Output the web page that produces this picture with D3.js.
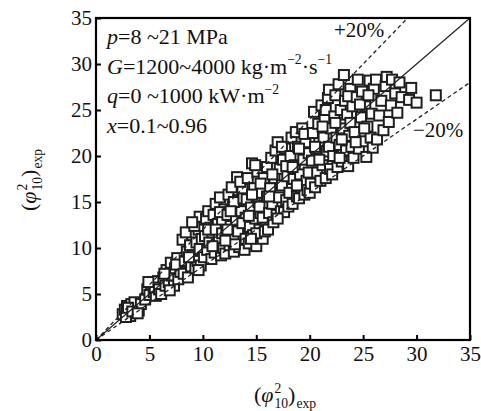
<!DOCTYPE html>
<html>
<head>
<meta charset="utf-8">
<script src="https://cdn.jsdelivr.net/npm/d3@7.9.0/dist/d3.min.js"></script>
<style>
  body { margin: 0; background: #fff; }
  svg { display: block; }
  text { font-family: "Liberation Serif", "Times New Roman", serif; fill: #111; }
</style>
</head>
<body>
<svg id="chart" width="481" height="411"></svg>
<script>
const xTicks = [0, 5, 10, 15, 20, 25, 30, 35];
const yTicks = [0, 5, 10, 15, 20, 25, 30, 35];

const points = [
  [2.5,2.8],[2.7,3.3],[2.9,3.7],[3.1,3.0],[3.3,3.9],[3.5,3.4],[3.2,2.6],[3.8,3.8],[4.0,3.2],[3.6,4.1],
  [2.8,2.5],[4.2,3.9],[3.0,3.5],[3.4,3.1],[3.9,2.9],
  [4.6,4.4],[4.8,5.5],[5.0,4.9],[5.2,6.0],[5.4,5.2],[5.6,4.8],[5.8,6.4],[5.5,5.7],[4.9,6.3],[5.9,5.5],
  [6.1,5.0],[6.3,6.8],[6.5,5.9],[6.6,7.6],[6.8,6.3],[7.0,8.4],[7.1,7.0],[7.3,5.9],[7.4,7.8],[7.6,8.9],
  [7.7,6.6],[7.9,7.4],[6.9,5.4],[7.5,8.2],[6.4,7.2],
  [8.1,10.9],[8.2,7.2],[8.3,8.6],[8.5,9.6],[8.6,6.8],[8.8,10.3],[8.9,8.0],[9.0,11.4],[9.1,9.2],[9.3,7.8],
  [9.4,10.6],[9.5,8.6],[9.6,12.0],[9.7,9.9],[9.8,8.1],[9.9,11.0],[8.4,11.7],[9.2,12.4],[8.7,9.0],[9.6,7.6],
  [9.7,13.4],[9.0,12.8],
  [10.1,9.0],[10.2,11.3],[10.3,13.2],[10.4,9.8],[10.5,14.0],[10.6,10.6],[10.7,12.2],[10.8,8.8],[10.9,11.7],[11.0,13.6],
  [11.1,9.5],[11.2,14.8],[11.3,10.4],[11.4,12.6],[11.5,11.1],[11.6,15.5],[11.7,9.2],[11.8,13.0],[11.9,10.0],[12.0,14.2],
  [10.5,12.0],[11.2,12.0],[11.6,13.9],[10.9,10.2],[11.8,11.6],
  [12.1,9.4],[12.2,11.5],[12.3,13.6],[12.4,15.8],[12.5,10.3],[12.6,12.4],[12.7,16.6],[12.8,14.5],[12.9,9.6],[13.0,11.0],
  [13.1,13.0],[13.2,17.7],[13.3,15.2],[13.4,10.1],[13.5,12.0],[13.6,14.0],[13.7,16.4],[13.8,11.2],[13.9,9.8],[14.0,13.3],
  [12.3,12.0],[12.9,15.0],[13.5,17.2],[13.0,10.4],[13.8,15.4],[12.6,14.0],[13.3,11.8],[14.0,11.0],[12.1,10.8],[13.7,12.7],
  [14.1,15.3],[14.2,17.6],[14.3,10.5],[14.4,12.3],[14.5,14.4],[14.6,19.2],[14.7,11.4],[14.8,16.5],[14.9,13.2],[15.0,10.2],
  [15.1,18.3],[15.2,15.0],[15.3,12.0],[15.4,13.8],[15.5,16.0],[15.6,11.0],[15.7,17.6],[15.8,14.6],[15.9,12.6],[16.0,18.8],
  [14.3,13.5],[14.6,15.8],[15.0,11.6],[15.4,17.0],[15.8,11.8],[14.9,19.0],[15.3,14.5],[14.5,11.0],[16.0,15.6],[15.6,13.3],
  [16.1,12.0],[16.2,13.8],[16.3,16.5],[16.4,19.8],[16.5,14.8],[16.6,12.8],[16.7,17.6],[16.8,20.6],[16.9,13.6],[17.0,21.5],
  [17.1,15.5],[17.2,18.6],[17.3,14.0],[17.4,16.8],[17.5,19.6],[17.6,13.9],[17.7,20.8],[17.8,15.2],[17.9,17.8],[18.0,14.5],
  [16.5,18.0],[17.0,13.2],[17.4,21.0],[16.2,15.6],[17.8,18.9],
  [18.1,16.0],[18.2,20.0],[18.3,22.0],[18.4,14.8],[18.5,17.5],[18.6,19.0],[18.7,22.6],[18.8,15.6],[18.9,21.0],[19.0,15.4],
  [19.1,18.0],[19.2,16.6],[19.3,23.0],[19.4,19.6],[19.5,15.8],[19.6,21.5],[19.7,17.3],[19.8,16.3],[19.9,20.3],[20.0,16.0],
  [18.4,18.8],[19.0,20.8],[19.5,22.4],[18.8,16.8],[19.9,18.2],
  [20.1,17.0],[20.2,19.5],[20.3,22.5],[20.4,24.8],[20.5,16.6],[20.6,20.8],[20.7,18.2],[20.8,23.5],[20.9,21.4],[21.0,17.3],
  [21.1,25.5],[21.2,19.0],[21.3,22.0],[21.4,24.0],[21.5,17.6],[21.6,20.5],[21.7,26.3],[21.8,27.2],[21.9,18.6],[22.0,23.0],
  [20.5,21.0],[21.2,23.2],[21.8,21.0],[20.9,19.6],[21.5,25.0],
  [22.1,18.0],[22.2,20.0],[22.3,24.3],[22.4,26.6],[22.5,22.0],[22.6,18.8],[22.7,27.8],[22.8,21.2],[22.9,25.0],[23.0,19.4],
  [23.1,23.0],[23.2,28.8],[23.3,26.0],[23.4,20.6],[23.5,24.5],[23.6,18.9],[23.7,22.2],[23.8,27.3],[23.9,21.0],[24.0,25.4],
  [22.4,23.6],[23.0,21.8],[23.6,26.5],[22.8,19.8],[23.8,23.6],
  [24.1,19.8],[24.2,22.6],[24.4,26.4],[24.5,28.3],[24.6,20.8],[24.8,24.2],[24.9,27.0],[25.0,21.6],[25.2,25.4],[25.3,19.9],
  [25.4,23.2],[25.6,28.2],[25.7,22.0],[25.8,24.6],[25.9,20.9],[26.0,27.3],[24.3,21.5],[25.1,23.0],[24.7,25.6],[25.5,26.6],
  [26.2,28.3],[26.3,21.8],[26.5,24.4],[26.7,26.0],[26.9,22.8],[27.1,27.6],[27.2,28.6],[27.4,23.7],[27.6,25.5],[27.7,28.3],
  [28.0,26.8],[28.2,24.7],
  [28.4,28.0],[28.6,26.4],[29.3,26.1],[29.5,27.4],[30.0,25.8],[31.8,26.6]
];

// reference lines: y = ratio * x
const guides = [
  { ratio: 1.0, dashed: false },
  { ratio: 1.2, dashed: true },
  { ratio: 0.8, dashed: true }
];

// operating range text, segments: t = text, i = italic, sup = superscript
const conditions = [
  [{ t: 'p', i: true }, { t: '=8 ~21 MPa' }],
  [{ t: 'G', i: true }, { t: '=1200~4000 kg·m' }, { t: '−2', sup: true }, { t: '·s' }, { t: '−1', sup: true }],
  [{ t: 'q', i: true }, { t: '=0 ~1000 kW·m' }, { t: '−2', sup: true }],
  [{ t: 'x', i: true }, { t: '=0.1~0.96' }]
];

const svg = d3.select('#chart');
const x = d3.scaleLinear().domain([0, 35]).range([96, 470]);
const y = d3.scaleLinear().domain([0, 35]).range([340, 18]);

// Draw pieces of text one after another, measuring as we go
function richText(g, segs, size) {
  let cx = 0;
  segs.forEach(s => {
    const fs = s.sup || s.sub ? size * 0.62 : size;
    const t = g.append('text')
      .attr('x', cx)
      .attr('y', s.sup ? -size * 0.42 : s.sub ? size * 0.28 : 0)
      .style('font-size', fs + 'px')
      .style('font-style', s.i ? 'italic' : 'normal')
      .text(s.t);
    if (!s.stack) cx += t.node().getComputedTextLength() + (s.gap || 0);
  });
  return cx;
}

// Points first so the lines stay visible on top
svg.append('g')
  .selectAll('rect')
  .data(points)
  .join('rect')
  .attr('x', d => x(d[0]) - 5)
  .attr('y', d => y(d[1]) - 5)
  .attr('width', 10)
  .attr('height', 10)
  .attr('fill', '#fff')
  .attr('stroke', '#1e1e1e')
  .attr('stroke-width', 2);

guides.forEach(gd => {
  const xEnd = Math.min(35, 35 / gd.ratio);
  svg.append('line')
    .attr('x1', x(0)).attr('y1', y(0))
    .attr('x2', x(xEnd)).attr('y2', y(xEnd * gd.ratio))
    .attr('stroke', '#222')
    .attr('stroke-width', gd.dashed ? 1.3 : 1.2)
    .attr('stroke-dasharray', gd.dashed ? '4,3' : null);
});

// Axes with inward ticks
const xAxis = svg.append('g')
  .attr('transform', 'translate(0,340)')
  .call(d3.axisBottom(x).tickValues(xTicks).tickSizeInner(-5).tickSizeOuter(0).tickPadding(6));
const yAxis = svg.append('g')
  .attr('transform', 'translate(96,0)')
  .call(d3.axisLeft(y).tickValues(yTicks).tickSizeInner(-5).tickSizeOuter(0).tickPadding(4));
[xAxis, yAxis].forEach(a => {
  a.select('.domain').remove();
  a.selectAll('line').attr('stroke', '#000').attr('stroke-width', 2);
  a.selectAll('text')
    .style('font-size', '21px')
    .style('font-family', '"Liberation Serif", serif')
    .attr('fill', '#111');
});

svg.append('rect')
  .attr('x', x(0)).attr('y', y(35))
  .attr('width', x(35) - x(0)).attr('height', y(0) - y(35))
  .attr('fill', 'none')
  .attr('stroke', '#000')
  .attr('stroke-width', 2.2);

// Condition lines
conditions.forEach((segs, i) => {
  const g = svg.append('g').attr('transform', `translate(107,${44 + i * 29.7})`);
  richText(g, segs, 22);
});

svg.append('text').attr('x', 334).attr('y', 37).style('font-size', '21px').text('+20%');
svg.append('text').attr('x', 413).attr('y', 137).style('font-size', '21px').text('−20%');

// (phi^2_10)_exp axis titles
const titleSegs = [
  { t: '(' },
  { t: 'φ', i: true, gap: 1 },
  { t: '2', sup: true, stack: true },
  { t: '10', sub: true },
  { t: ')', gap: 1 },
  { t: 'exp', sub: true }
];
function axisTitle(tx, ty, rot) {
  const g = svg.append('g');
  const inner = g.append('g');
  const w = richText(inner, titleSegs, 22);
  inner.attr('transform', `translate(${-w / 2},0)`);
  g.attr('transform', `translate(${tx},${ty}) rotate(${rot})`);
}
axisTitle(285, 402, 0);
axisTitle(36, 180, -90);
</script>
</body>
</html>
